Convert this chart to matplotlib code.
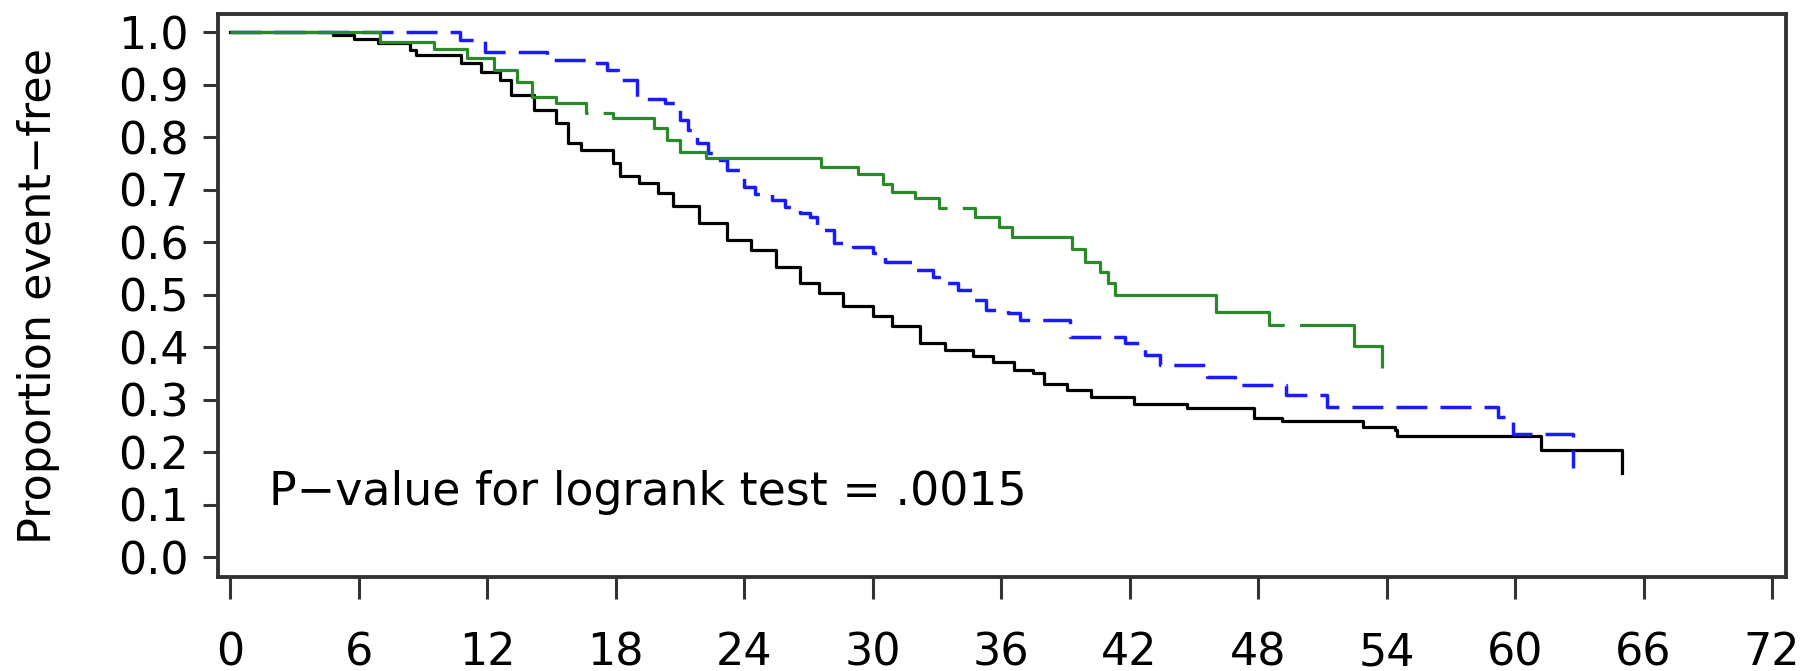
import matplotlib
matplotlib.use("Agg")
import matplotlib.pyplot as plt

# Kaplan-Meier style curves: (month, proportion event-free)
black_t = [0, 4.8, 5.8, 6.9, 8.4, 8.7, 10.8, 11.7, 12.6, 13.1, 14.2, 15.2, 15.8, 16.4,
           17.9, 18.2, 19.1, 20.0, 20.7, 21.9, 23.2, 24.3, 25.5, 26.6, 27.5, 28.6,
           30.0, 30.9, 32.2, 33.4, 34.7, 35.6, 36.6, 37.5, 38.0, 39.1, 40.2, 42.2,
           44.7, 47.8, 49.1, 52.9, 54.4, 54.5, 61.2, 65.0]
black_s = [1.0, 0.995, 0.988, 0.979, 0.966, 0.956, 0.941, 0.925, 0.909, 0.880, 0.852,
           0.827, 0.789, 0.776, 0.751, 0.726, 0.713, 0.694, 0.669, 0.637, 0.605, 0.585,
           0.554, 0.522, 0.503, 0.478, 0.459, 0.440, 0.408, 0.395, 0.383, 0.373, 0.357,
           0.351, 0.331, 0.319, 0.306, 0.293, 0.284, 0.265, 0.260, 0.249, 0.242, 0.231,
           0.204, 0.160]

blue_t = [0, 10.75, 11.9, 14.8, 16.7, 17.6, 18.1, 19.0, 20.3, 21.0, 21.4, 21.8, 22.3,
          22.8, 23.2, 24.0, 24.5, 25.3, 25.9, 26.6, 27.1, 27.4, 28.2, 29.1, 30.0, 30.6,
          32.0, 32.8, 33.1, 34.0, 34.7, 35.3, 36.3, 36.9, 39.2, 41.8, 42.7, 43.4, 45.6,
          46.9, 49.3, 51.2, 59.2, 59.9, 62.7]
blue_s = [1.0, 0.985, 0.963, 0.947, 0.941, 0.928, 0.909, 0.874, 0.865, 0.833, 0.814,
          0.789, 0.770, 0.757, 0.738, 0.706, 0.693, 0.681, 0.668, 0.655, 0.649, 0.623,
          0.598, 0.592, 0.579, 0.563, 0.547, 0.534, 0.522, 0.509, 0.490, 0.471, 0.465,
          0.452, 0.420, 0.408, 0.385, 0.366, 0.344, 0.328, 0.309, 0.287, 0.268, 0.235,
          0.170]

green_t = [0, 7.0, 9.5, 11.07, 12.3, 13.4, 14.1, 15.2, 16.6, 17.9, 19.8, 20.4, 21.0,
           22.2, 27.6, 29.3, 30.5, 30.9, 32.0, 33.1, 34.8, 35.9, 36.5, 39.3, 39.9, 40.6,
           41.0, 41.3, 46.05, 48.5, 52.5, 53.8]
green_s = [1.0, 0.982, 0.968, 0.952, 0.928, 0.906, 0.877, 0.865, 0.846, 0.836, 0.817,
           0.795, 0.773, 0.760, 0.743, 0.731, 0.712, 0.696, 0.684, 0.665, 0.649, 0.630,
           0.611, 0.588, 0.563, 0.544, 0.522, 0.500, 0.468, 0.442, 0.402, 0.360]

x_ticks = [0, 6, 12, 18, 24, 30, 36, 42, 48, 54, 60, 66, 72]
y_ticks = [0.0, 0.1, 0.2, 0.3, 0.4, 0.5, 0.6, 0.7, 0.8, 0.9, 1.0]
p_text = "P\u2212value for logrank test = .0015"

plt.rcParams['font.family'] = ['DejaVu Sans']

fig = plt.figure(figsize=(18.18, 6.71), dpi=100)
ax = fig.add_axes([0.1201, 0.1401, 0.8623, 0.839])

lw = 2.3
ax.step(black_t, black_s, where='post', color='black', lw=lw)
ax.step(blue_t, blue_s, where='post', color='#1a1aff', lw=lw + 0.2,
        linestyle=(0, (22.3 / (lw + 0.2), 9.4 / (lw + 0.2))))
ax.step(green_t, green_s, where='post', color='#2a8a2a', lw=lw,
        linestyle=(0, (316 / lw, 11 / lw)))

ax.text(1.8, 0.10, p_text, fontsize=33, va='baseline', ha='left')

ax.set_xlim(-0.55, 72.65)
ax.set_ylim(-0.0375, 1.035)
ax.set_xticks(x_ticks)
ax.set_xticklabels([str(v) for v in x_ticks])
ax.set_yticks(y_ticks)
ax.set_yticklabels(["%.1f" % v for v in y_ticks])

for sp in ax.spines.values():
    sp.set_linewidth(2.8)
    sp.set_color('#333333')

ax.tick_params(axis='y', direction='out', length=10.8, width=2.2, pad=10.5,
               labelsize=32, color='#333333')
ax.tick_params(axis='x', direction='out', length=16, width=2.2, pad=23,
               labelsize=32, color='#333333')

ylab = ax.set_ylabel("Proportion event\u2212free", fontsize=32, va='center')
ax.yaxis.set_label_coords(-0.115, 0.5)

fig.savefig("out.png", dpi=100)
